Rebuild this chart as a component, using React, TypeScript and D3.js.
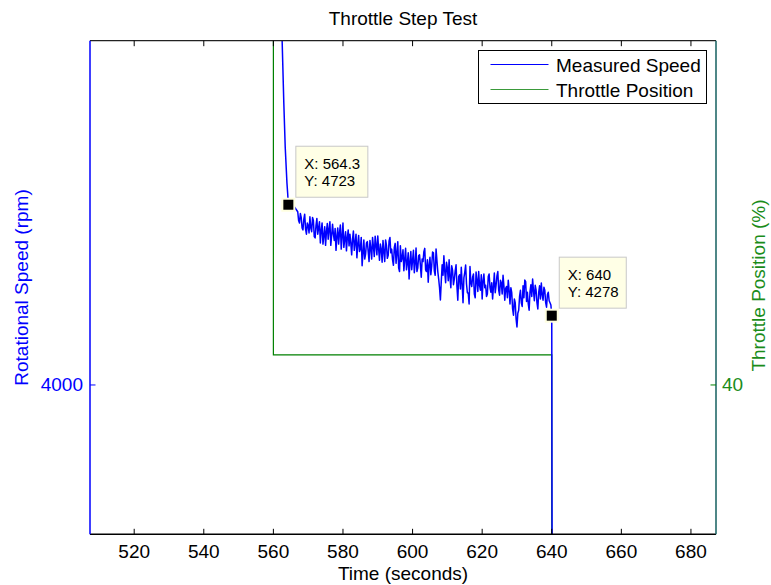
import React from "react";
import * as d3 from "d3";

// ---------- data ----------
// steep decay after the throttle step (time s, speed rpm)
const decayTime: number[] = [555, 560, 561, 562, 562.5, 563, 563.4, 563.9, 564.1, 564.3, 565, 566];
const decayRpm: number[] = [6200, 6200, 6000, 5600, 5390, 5130, 4955, 4810, 4770, 4723, 4728, 4715];

// noisy settling phase, one row per second (567 … 639), readings every 0.25 s
const noiseSeconds: number[] = [
  567, 568, 569, 570, 571, 572, 573, 574, 575, 576, 577, 578, 579, 580, 581, 582, 583, 584, 585, 586,
  587, 588, 589, 590, 591, 592, 593, 594, 595, 596, 597, 598, 599, 600, 601, 602, 603, 604, 605, 606,
  607, 608, 609, 610, 611, 612, 613, 614, 615, 616, 617, 618, 619, 620, 621, 622, 623, 624, 625, 626,
  627, 628, 629, 630, 631, 632, 633, 634, 635, 636, 637, 638, 639,
];
const noiseRpm: number[][] = [
  [4695, 4660, 4650, 4688], [4672, 4630, 4622, 4665], [4685, 4625, 4605, 4650], [4640, 4610, 4675, 4630],
  [4615, 4672, 4660, 4595], [4590, 4640, 4668, 4605], [4630, 4655, 4570, 4620], [4650, 4565, 4600, 4635],
  [4560, 4615, 4648, 4585], [4625, 4655, 4560, 4600], [4645, 4605, 4580, 4628], [4540, 4595, 4630, 4565],
  [4610, 4642, 4545, 4598], [4650, 4552, 4585, 4615], [4538, 4590, 4622, 4558], [4605, 4570, 4522, 4585],
  [4618, 4540, 4570, 4605], [4510, 4565, 4600, 4535], [4545, 4592, 4478, 4530], [4582, 4505, 4525, 4570],
  [4575, 4535, 4495, 4580], [4548, 4505, 4592, 4555], [4515, 4597, 4560, 4522], [4598, 4545, 4500, 4565],
  [4545, 4492, 4580, 4535], [4495, 4582, 4560, 4508], [4520, 4578, 4592, 4530], [4545, 4502, 4480, 4552],
  [4568, 4488, 4530, 4575], [4470, 4455, 4558, 4495], [4510, 4542, 4458, 4505], [4548, 4462, 4490, 4530],
  [4425, 4495, 4535, 4462], [4500, 4540, 4450, 4488], [4549, 4455, 4470, 4518], [4522, 4480, 4432, 4505],
  [4495, 4535, 4548, 4462], [4455, 4502, 4412, 4482], [4512, 4442, 4478, 4533], [4530, 4458, 4440, 4545],
  [4500, 4455, 4425, 4390], [4341, 4415, 4482, 4440], [4518, 4455, 4410, 4492], [4470, 4418, 4502, 4432],
  [4390, 4478, 4460, 4402], [4425, 4458, 4482, 4395], [4340, 4435, 4442, 4385], [4472, 4405, 4330, 4430],
  [4452, 4481, 4405, 4370], [4368, 4325, 4475, 4410], [4395, 4432, 4445, 4365], [4350, 4453, 4420, 4375],
  [4455, 4400, 4380, 4442], [4345, 4418, 4445, 4390], [4400, 4355, 4365, 4435], [4445, 4392, 4372, 4410],
  [4345, 4395, 4449, 4370], [4400, 4438, 4455, 4380], [4360, 4420, 4410, 4365], [4440, 4398, 4340, 4388],
  [4395, 4350, 4420, 4380], [4325, 4390, 4370, 4305], [4280, 4345, 4330, 4265], [4233, 4288, 4300, 4355],
  [4380, 4330, 4315, 4398], [4350, 4421, 4415, 4335], [4372, 4325, 4300, 4375], [4402, 4355, 4425, 4378],
  [4338, 4400, 4380, 4330], [4305, 4372, 4398, 4345], [4409, 4362, 4340, 4392], [4380, 4330, 4312, 4362],
  [4372, 4338, 4330, 4321],
];
const noiseSubSteps: number[] = [0, 0.25, 0.5, 0.75];

// throttle cut at 640 s
const endTime: number[] = [640, 640.1, 687];
const endRpm: number[] = [4278, 3300, 3300];

const throttleTime: number[] = [500, 560, 560, 640, 640, 690];
const throttlePct: number[] = [100, 100, 45, 45, 10, 10];

const xDomain: [number, number] = [507.3, 687.2];
const leftDomain: [number, number] = [3401, 5381];
const rightDomain: [number, number] = [15.1, 97.4];

const xTicks: number[] = [520, 540, 560, 580, 600, 620, 640, 660, 680];
const leftTicks: number[] = [4000];
const rightTicks: number[] = [40];

const tipX: number[] = [564.3, 640];
const tipY: number[] = [4723, 4278];
const tipLabelX: string[] = ["564.3", "640"];
const tipLabelY: string[] = ["4723", "4278"];
const tipWidth: number[] = [72, 67];

const legendLabels: string[] = ["Measured Speed", "Throttle Position"];

// ---------- layout ----------
const W = 771;
const H = 585;
const L = 90;
const R = 716;
const T = 40.7;
const B = 534.3;
const FONT = "'Liberation Sans', Arial, Helvetica, sans-serif";
const FS = 19;
const BLUE = "#0000ff";
const GREEN = "#008000";
const GREEN_TXT = "#1a8c1a";

type Pt = [number, number];

export default function App() {
  const x = d3.scaleLinear().domain(xDomain).range([L, R]);
  const yL = d3.scaleLinear().domain(leftDomain).range([B, T]);
  const yR = d3.scaleLinear().domain(rightDomain).range([B, T]);

  const speedPts: Pt[] = [];
  decayTime.forEach((t, i) => speedPts.push([t, decayRpm[i]]));
  noiseSeconds.forEach((s, i) =>
    noiseSubSteps.forEach((q, j) => speedPts.push([s + q, noiseRpm[i][j]]))
  );
  endTime.forEach((t, i) => speedPts.push([t, endRpm[i]]));

  const thrPts: Pt[] = throttleTime.map((t, i) => [t, throttlePct[i]]);

  const speedLine = d3
    .line<Pt>()
    .x((d) => x(d[0]))
    .y((d) => yL(d[1]));
  const thrLine = d3
    .line<Pt>()
    .x((d) => x(d[0]))
    .y((d) => yR(d[1]));

  const tick = 5.5;

  return (
    <svg
      width={W}
      height={H}
      style={{ position: "absolute", left: 0, top: 0, background: "#fff" }}
      fontFamily={FONT}
    >
      <defs>
        <clipPath id="plot">
          <rect x={L} y={T} width={R - L} height={B - T} />
        </clipPath>
      </defs>
      <rect x={0} y={0} width={W} height={H} fill="#fff" />

      {/* title */}
      <text x={(L + R) / 2} y={25} textAnchor="middle" fontSize={FS} fill="#000">
        Throttle Step Test
      </text>

      {/* lines */}
      <g clipPath="url(#plot)">
        <path d={thrLine(thrPts) || ""} fill="none" stroke={GREEN} strokeWidth={1.2} />
        <path d={speedLine(speedPts) || ""} fill="none" stroke={BLUE} strokeWidth={1.5} strokeLinejoin="round" />
      </g>

      {/* spines */}
      <line x1={L} x2={R} y1={T} y2={T} stroke="#222" strokeWidth={1.2} />
      <line x1={L} x2={R} y1={B} y2={B} stroke="#000" strokeWidth={1.5} />
      <line x1={L} x2={L} y1={T} y2={B} stroke={BLUE} strokeWidth={1.5} />
      <line x1={R} x2={R} y1={T} y2={B} stroke="#155f5f" strokeWidth={1.5} />

      {/* x ticks */}
      {xTicks.map((t) => (
        <g key={t}>
          <line x1={x(t)} x2={x(t)} y1={B} y2={B - tick} stroke="#000" strokeWidth={1} />
          <line x1={x(t)} x2={x(t)} y1={T} y2={T + tick} stroke="#000" strokeWidth={1} />
          <text x={x(t)} y={558} textAnchor="middle" fontSize={FS} fill="#000">
            {t}
          </text>
        </g>
      ))}
      <text x={(L + R) / 2} y={580} textAnchor="middle" fontSize={FS} fill="#000">
        Time (seconds)
      </text>

      {/* left axis */}
      {leftTicks.map((t) => (
        <g key={t}>
          <line x1={L} x2={L + tick} y1={yL(t)} y2={yL(t)} stroke={BLUE} strokeWidth={1} />
          <text x={83} y={yL(t) + 6.5} textAnchor="end" fontSize={FS} fill={BLUE}>
            {t}
          </text>
        </g>
      ))}
      <text
        transform={`translate(28,${(T + B) / 2}) rotate(-90)`}
        textAnchor="middle"
        fontSize={FS}
        fill={BLUE}
      >
        Rotational Speed (rpm)
      </text>

      {/* right axis */}
      {rightTicks.map((t) => (
        <g key={t}>
          <line x1={R} x2={R - tick} y1={yR(t)} y2={yR(t)} stroke={GREEN} strokeWidth={1} />
          <text x={722} y={yR(t) + 6.5} textAnchor="start" fontSize={FS} fill={GREEN_TXT}>
            {t}
          </text>
        </g>
      ))}
      <text
        transform={`translate(765,${(T + B) / 2 - 2}) rotate(-90)`}
        textAnchor="middle"
        fontSize={FS}
        fill={GREEN_TXT}
      >
        Throttle Position (%)
      </text>

      {/* legend */}
      <g>
        <rect x={478.5} y={50.5} width={228} height={53} fill="#fff" stroke="#000" strokeWidth={1} />
        {legendLabels.map((lab, i) => (
          <g key={lab}>
            <line
              x1={490.5}
              x2={548.5}
              y1={64.5 + i * 25}
              y2={64.5 + i * 25}
              stroke={i === 0 ? BLUE : "#3a9a3a"}
              strokeWidth={1}
            />
            <text x={556} y={71.5 + i * 25.5} fontSize={FS} fill="#000">
              {lab}
            </text>
          </g>
        ))}
      </g>

      {/* data tips */}
      {tipX.map((tx, i) => {
        const mx = x(tx);
        const my = yL(tipY[i]);
        const bx = mx + 7.5;
        const by = my - 7.5 - 51;
        return (
          <g key={i}>
            <rect x={mx - 7} y={my - 7} width={14} height={14} fill="#ffffe0" />
            <rect x={mx - 5} y={my - 5} width={10} height={10} fill="#000" />
            <rect
              x={bx}
              y={by}
              width={tipWidth[i]}
              height={51}
              fill="#ffffe6"
              stroke="#c8c8c8"
              strokeWidth={1}
            />
            <text x={bx + 8.5} y={by + 22.5} fontSize={15} fill="#000">
              {`X: ${tipLabelX[i]}`}
            </text>
            <text x={bx + 8.5} y={by + 39.5} fontSize={15} fill="#000">
              {`Y: ${tipLabelY[i]}`}
            </text>
          </g>
        );
      })}
    </svg>
  );
}
